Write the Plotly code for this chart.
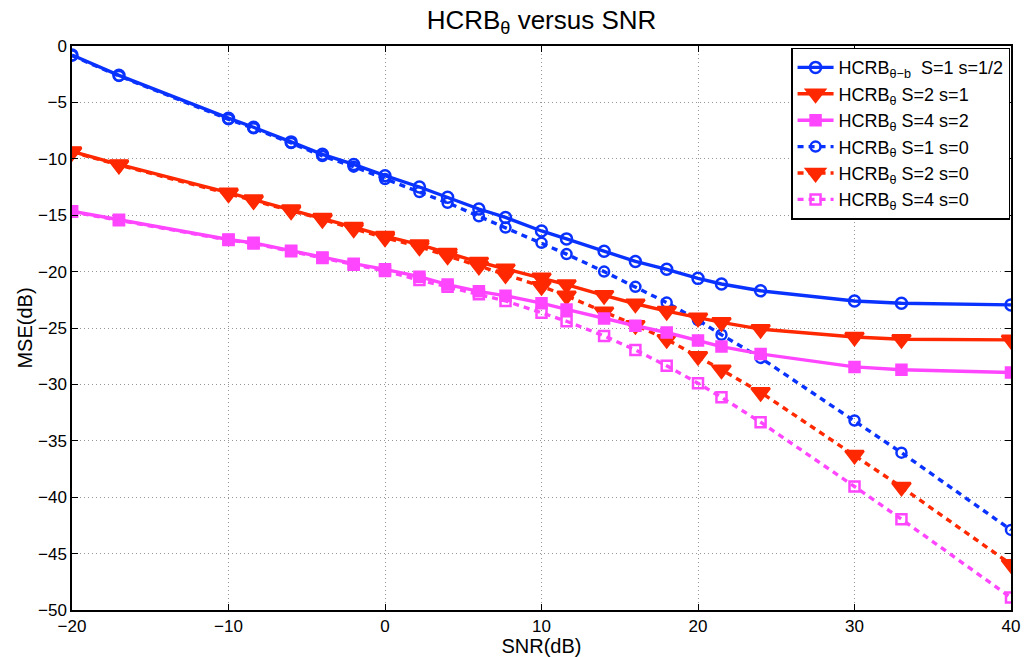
import plotly.graph_objects as go

snr = [-20, -17, -10, -8.4, -6, -4, -2, 0, 2.2, 4, 6, 7.7, 10, 11.6, 14, 16, 18, 20, 21.5, 24, 30, 33, 40]

s1_half = [-0.8, -2.6, -6.4, -7.2, -8.5, -9.6, -10.5, -11.5, -12.5, -13.4, -14.45, -15.2, -16.4, -17.1,
           -18.2, -19.1, -19.8, -20.6, -21.1, -21.7, -22.6, -22.8, -22.95]
s2_one = [-9.35, -10.5, -13.0, -13.6, -14.5, -15.25, -16.05, -16.85, -17.6, -18.35, -19.15, -19.75, -20.55,
          -21.15, -22.1, -22.85, -23.5, -24.1, -24.5, -25.1, -25.8, -26.0, -26.05]
s4_two = [-14.65, -15.4, -17.15, -17.45, -18.15, -18.75, -19.3, -19.8, -20.45, -21.15, -21.75, -22.15, -22.8,
          -23.35, -24.15, -24.8, -25.4, -26.1, -26.65, -27.3, -28.45, -28.7, -28.95]
s1_zero = [-0.85, -2.65, -6.5, -7.3, -8.6, -9.75, -10.7, -11.8, -12.95, -13.9, -15.1, -16.1, -17.45, -18.45,
           -20.0, -21.35, -22.75, -24.3, -25.6, -27.65, -33.2, -36.05, -42.9]
s2_zero = [-9.4, -10.55, -13.1, -13.7, -14.6, -15.35, -16.2, -17.0, -17.8, -18.6, -19.5, -20.25, -21.3,
           -22.15, -23.55, -24.75, -26.0, -27.5, -28.7, -30.7, -36.25, -39.1, -45.95]
s4_zero = [-14.7, -15.45, -17.2, -17.5, -18.2, -18.8, -19.4, -19.95, -20.75, -21.35, -22.0, -22.6, -23.65,
           -24.4, -25.7, -26.95, -28.35, -29.9, -31.15, -33.35, -39.05, -41.95, -48.9]

x_ticks = [-20, -10, 0, 10, 20, 30, 40]
x_labels = ["−20", "−10", "0", "10", "20", "30", "40"]
y_ticks = [0, -5, -10, -15, -20, -25, -30, -35, -40, -45, -50]
y_labels = ["0", "−5", "−10", "−15", "−20", "−25", "−30", "−35", "−40", "−45", "−50"]

legend_names = [
    "HCRB<sub>θ−b</sub>  S=1 s=1/2",
    "HCRB<sub>θ</sub> S=2 s=1",
    "HCRB<sub>θ</sub> S=4 s=2",
    "HCRB<sub>θ</sub> S=1 s=0",
    "HCRB<sub>θ</sub> S=2 s=0",
    "HCRB<sub>θ</sub> S=4 s=0",
]

BLUE = "rgb(10,50,255)"
RED = "rgb(255,40,0)"
MAG = "rgb(255,70,255)"

styles = [
    (s1_half, BLUE, "solid", "circle-open", 11),
    (s2_one, RED, "solid", "triangle-down", 16),
    (s4_two, MAG, "solid", "square", 10),
    (s1_zero, BLUE, "6px,5px", "circle-open", 10),
    (s2_zero, RED, "6px,5px", "triangle-down", 16),
    (s4_zero, MAG, "6px,5px", "square-open", 10),
]

fig = go.Figure()
order = [3, 4, 5, 0, 1, 2]  # dotted first so solid lines sit on top
for i in order:
    ys, col, dash, sym, size = styles[i]
    fig.add_trace(go.Scatter(
        x=snr, y=ys, name=legend_names[i], mode="lines+markers",
        line=dict(color=col, width=3.4, dash=dash),
        marker=dict(symbol=sym, size=size, color=col,
                    line=dict(color=col, width=2.5)),
        legendrank=i + 1,
    ))

axis_common = dict(
    showline=True, linecolor="black", linewidth=1.5, mirror="ticks",
    ticks="inside", ticklen=6, tickcolor="black", tickwidth=1.2,
    showgrid=True, gridcolor="rgb(150,150,150)", griddash="1px,3px", gridwidth=1,
    zeroline=False, tickfont=dict(size=17, color="black"), automargin=False,
)

fig.update_layout(
    width=1024, height=657, autosize=False,
    margin=dict(l=72, r=13, t=46, b=47, autoexpand=False),
    paper_bgcolor="white", plot_bgcolor="white",
    font=dict(family="Liberation Sans, Arial, sans-serif", color="black"),
    title=dict(text="HCRB<sub>θ</sub> versus SNR", xref="paper", x=0.5, xanchor="center",
               y=0.984, yanchor="top", font=dict(size=26, color="black")),
    xaxis=dict(range=[-20, 40], tickvals=x_ticks, ticktext=x_labels,
               title=dict(text="SNR(dB)", font=dict(size=20), standoff=0), **axis_common),
    yaxis=dict(range=[-50, 0], tickvals=y_ticks, ticktext=y_labels,
               title=dict(text="MSE(dB)", font=dict(size=20), standoff=0), **axis_common),
    legend=dict(x=0.999, y=0.997, xanchor="right", yanchor="top",
                bgcolor="white", bordercolor="black", borderwidth=1.5,
                font=dict(size=18, color="black"), tracegroupgap=0,
                itemwidth=36),
    showlegend=True,
)

fig.write_html("out.html", config={"displayModeBar": False},
               post_script="document.body.style.margin='0px';")
